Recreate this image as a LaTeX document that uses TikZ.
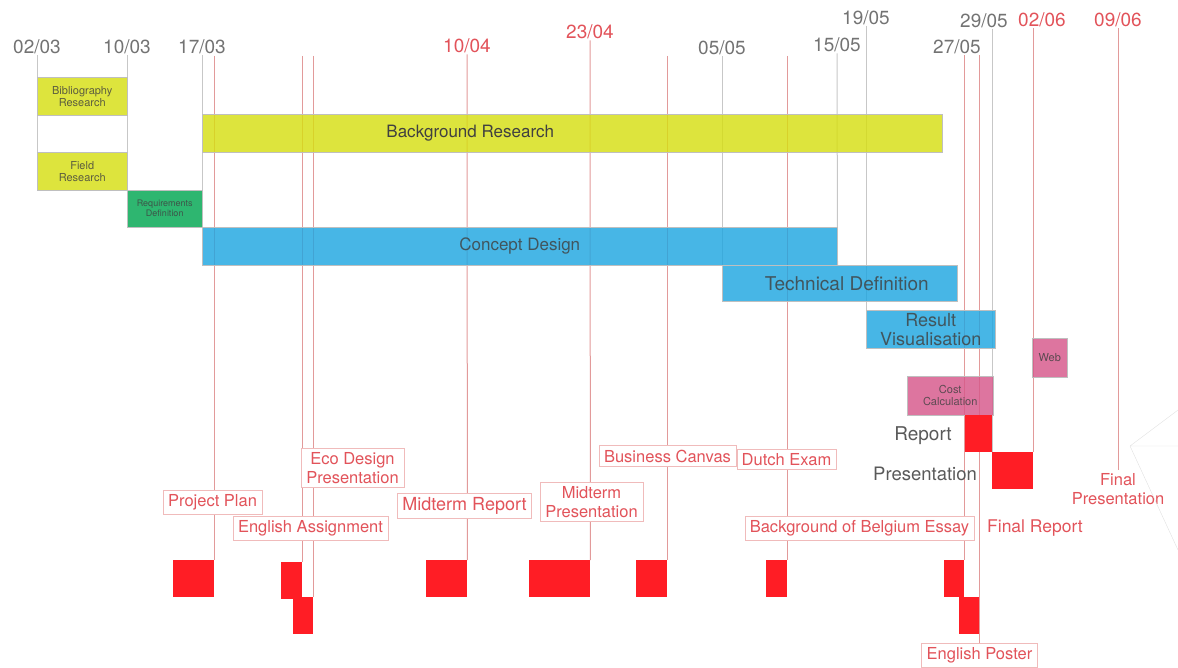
\documentclass[tikz,border=0pt]{standalone}
\usepackage{fontspec}
\setmainfont{TeX Gyre Heros}
\usetikzlibrary{backgrounds}
\definecolor{taskyellow}{HTML}{D6DE12}
\definecolor{taskgreen}{HTML}{00A651}
\definecolor{taskblue}{HTML}{1FA6E0}
\definecolor{taskpink}{HTML}{D6578A}
\definecolor{duered}{HTML}{FF1D25}
\definecolor{duetext}{HTML}{E2535A}
\definecolor{dueline}{HTML}{E29A9A}
\definecolor{tagline}{HTML}{F0BBBB}
\tikzset{
    task/.style={draw=black!25,line width=0.5pt,fill opacity=0.82,text=black!75,
        anchor=north west,inner sep=0pt,align=center},
    sz/.style 2 args={minimum width=#1pt,minimum height=#2pt},
    due/.style={fill=duered,anchor=north west,inner sep=0pt},
    tag/.style={draw=tagline,fill=white,text=duetext,inner xsep=5pt,inner ysep=4pt,
        align=center,font=\fontsize{16.5}{19}\selectfont},
    date/.style={text=black!55,inner sep=1pt,font=\fontsize{19}{19}\selectfont},
    reddate/.style={date,text=duetext},
    gridline/.style={draw=black!22,line width=1pt},
    deadline/.style={draw=dueline,line width=1pt}
}

\begin{document}
\begin{tikzpicture}[x=1pt,y=-1pt]
    \useasboundingbox (0,0) rectangle (1178,668);
    % dates
    \node[date] (d0203) at (37,47) {02/03};
    \node[date] (d1003) at (127,47) {10/03};
    \node[date] (d1703) at (202,47) {17/03};
    \node[reddate] (d1004) at (467,46) {10/04};
    \node[reddate] (d2304) at (590,32) {23/04};
    \node[date] (d0505) at (722,48) {05/05};
    \node[date] (d1505) at (837,45) {15/05};
    \node[date] (d1905) at (866,18) {19/05};
    \node[date] (d2705) at (957,47) {27/05};
    \node[date] (d2905) at (984,21) {29/05};
    \node[reddate] (d0206) at (1042,20) {02/06};
    \node[reddate] (d0906) at (1118,20) {09/06};
    \coordinate (top) at (0,56);

    % tasks
    \node[task,sz={90}{38},fill=taskyellow,font=\fontsize{11}{12}\selectfont] (bib) at (37,77) {Bibliography\\Research};
    \node[task,sz={740}{38},fill=taskyellow,
        label={[xshift=-102pt,text=black!75,font=\fontsize{17}{17}\selectfont]center:Background Research}] (bgres) at (202,114) {};
    \node[task,sz={90}{38},fill=taskyellow,font=\fontsize{11}{12}\selectfont] (field) at (37,152) {Field\\Research};
    \node[task,sz={75}{37},fill=taskgreen,font=\fontsize{9}{10}\selectfont] (req) at (127,190) {Requirements\\Definition};
    \node[task,sz={635}{38},fill=taskblue,font=\fontsize{17}{17}\selectfont] (concept) at (202,227) {Concept Design};
    \node[task,sz={235}{36},fill=taskblue,font=\fontsize{19}{19}\selectfont] (techdef) at (722,265) {\hspace*{14pt}Technical Definition};
    \node[task,sz={129}{38},fill=taskblue,font=\fontsize{18}{19}\selectfont] (resvis) at (866,310) {Result\\Visualisation};
    \node[task,sz={35}{39},fill=taskpink,font=\fontsize{11}{12}\selectfont] (web) at (1032,338) {Web};
    \node[task,sz={86}{39},fill=taskpink,font=\fontsize{11}{12}\selectfont] (cost) at (907,376) {Cost\\Calculation};
    \node[due,sz={27}{37}] (report) at (965,415) {};
    \node[due,sz={41}{37}] (pres) at (992,452) {};
    \node[text=black!65,font=\fontsize{19}{19}\selectfont] (reportlbl) at (923,436) {Report};
    \node[text=black!65,font=\fontsize{18.5}{19}\selectfont] (preslbl) at (925,474) {Presentation};

    % deadlines
    \node[due,sz={41}{37}] (pp) at (173,560) {};
    \node[due,sz={21}{37}] (ea) at (281,562) {};
    \node[due,sz={20}{37}] (eco) at (293,597) {};
    \node[due,sz={41}{37}] (mr) at (426,560) {};
    \node[due,sz={61}{37}] (mp) at (529,560) {};
    \node[due,sz={31}{37}] (bc) at (636,560) {};
    \node[due,sz={21}{37}] (de) at (766,560) {};
    \node[due,sz={20}{37}] (be) at (944,560) {};
    \node[due,sz={20}{37}] (ep) at (959,597) {};

    \node[tag] (pplbl) at (212.5,502) {Project Plan};
    \node[tag] (ealbl) at (310.5,528) {English Assignment};
    \node[tag] (ecolbl) at (352.5,468) {Eco Design\\Presentation};
    \node[tag,font=\fontsize{18}{19}\selectfont] (mrlbl) at (464.5,506) {Midterm Report};
    \node[tag] (mplbl) at (591.5,502) {Midterm\\Presentation};
    \node[tag] (bclbl) at (667.5,456) {Business Canvas};
    \node[tag] (delbl) at (786.5,459.5) {Dutch Exam};
    \node[tag] (belbl) at (859.5,528) {Background of Belgium Essay};
    \node[tag] (eplbl) at (979.5,655) {English Poster};
    \node[text=duetext,font=\fontsize{17.5}{19}\selectfont] (frlbl) at (1035,528) {Final Report};
    \node[text=duetext,align=center,font=\fontsize{16.5}{19}\selectfont] (fplbl) at (1118,489) {Final\\Presentation};

    \begin{scope}[on background layer]
        \draw[gridline] (d0203.south) -- (field.north west);
        \draw[gridline] (d1003.south) -- (req.north west);
        \draw[gridline] (d1703.south) -- (concept.north west);
        \draw[gridline] (d0505.south) -- (techdef.north west);
        \draw[gridline] (d1505.south) -- (concept.south east);
        \draw[gridline] (d1905.south) -- (resvis.north west);
        \draw[gridline] (pres.north west |- d2905.south) -- (pres.north west);
        \draw[deadline] (pp.north east |- top) -- (pp.north east);
        \draw[deadline] (ea.north east |- top) -- (ea.north east);
        \draw[deadline] (eco.north east |- top) -- (eco.north east);
        \draw[deadline] (d1004.south) -- (mr.north east);
        \draw[deadline] (d2304.south) -- (mp.north east);
        \draw[deadline] (bc.north east |- top) -- (bc.north east);
        \draw[deadline] (de.north east |- top) -- (de.north east);
        \draw[deadline] (be.north east |- d2705.south) -- (be.north east);
        \draw[deadline] (ep.north east |- d2705.south) -- (ep.north east |- eplbl.north);
        \draw[deadline] (pres.north east |- d0206.south) -- (pres.north east);
        \draw[deadline] (d0906.south) -- (fplbl.north);
    \end{scope}

    \draw[black!12] (1178,410) -- (1130,446) -- (1178,550) (1130,446) -- (1178,446);
\end{tikzpicture}
\end{document}
